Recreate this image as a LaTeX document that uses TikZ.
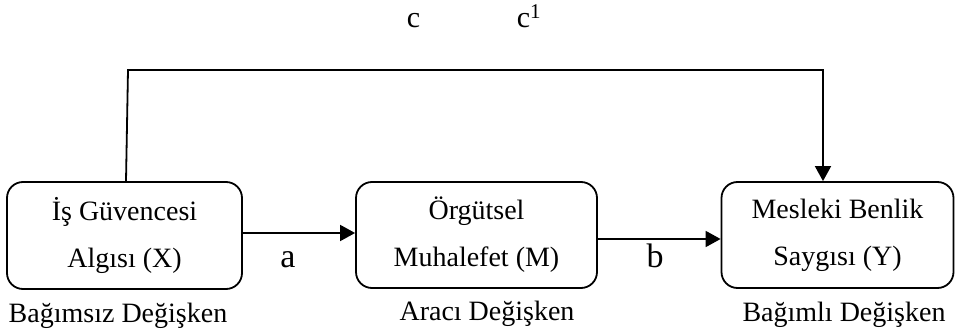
\documentclass[tikz,border=0pt]{standalone}
\usepackage{fontspec}
\setmainfont{Liberation Serif}
\usetikzlibrary{arrows.meta}
\begin{document}
\begin{tikzpicture}[x=1pt,y=-1pt,
  box/.style={draw,line width=1.8pt,rounded corners=16pt,align=center,
    font=\fontsize{28}{47}\selectfont,inner sep=0pt},
  lbl/.style={font=\fontsize{28}{30}\selectfont,inner sep=0pt,anchor=base},
  path/.style={font=\fontsize{34}{36}\selectfont,inner sep=0pt,anchor=base},
  arr/.style={line width=1.8pt,-{Triangle[length=15pt,width=16pt]}}]
\useasboundingbox (0,0) rectangle (956,331);
\node[box,minimum width=235pt,minimum height=107pt] (X) at (124.5,235.5) {İş Güvencesi\\Algısı (X)};
\node[box,minimum width=241pt,minimum height=106pt] (M) at (476.5,235) {Örgütsel\\Muhalefet (M)};
\node[box,minimum width=232pt,minimum height=106pt] (Y) at (837.5,235) {Mesleki Benlik\\Saygısı (Y)};
\node[lbl] (lx) at (118,322) {Bağımsız Değişken};
\node[lbl] (lm) at (487,320) {Aracı Değişken};
\node[lbl] (ly) at (844,321) {Bağımlı Değişken};
\node[path] (la) at (288,268) {a};
\node[path] (lb) at (655,268) {b};
\node[lbl,font=\fontsize{30}{32}\selectfont] (lc) at (413.5,28) {c};
\node[lbl,font=\fontsize{30}{32}\selectfont] (lc1) at (529,28) {c\textsuperscript{1}};
\coordinate (t1) at (128,70);
\coordinate (t2) at (823,70);
\draw[arr] ([yshift=2.5pt]X.east) -- ([yshift=2pt]M.west);
\draw[arr] ([yshift=-4pt]M.east) -- ([yshift=-4pt]Y.west);
\draw[arr,line join=miter] ([xshift=1.5pt]X.north) -- (t1) -- (t2) -- ([xshift=-14.5pt]Y.north);
\end{tikzpicture}
\end{document}
